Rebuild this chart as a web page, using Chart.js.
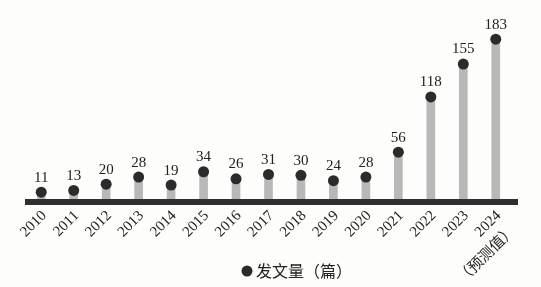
<!DOCTYPE html>
<html>
<head>
<meta charset="utf-8">
<script src="https://cdn.jsdelivr.net/npm/chart.js@4"></script>
<style>
  html, body { margin: 0; padding: 0; background: #fdfdfb; }
  #wrap { width: 541px; height: 287px; }
</style>
</head>
<body>
<div id="wrap"><canvas id="grafico"></canvas></div>
<script>
const anos = ['2010', '2011', '2012', '2013', '2014', '2015', '2016', '2017', '2018', '2019', '2020', '2021', '2022', '2023', '2024'];
const rotulos = anos.slice(0, -1).concat([['2024', '（预测值）']]);
const publicacoes = [11, 13, 20, 28, 19, 34, 26, 31, 30, 24, 28, 56, 118, 155, 183];
const nomeSerie = '发文量（篇）';

const serif = "'Liberation Serif', 'Noto Sans CJK SC', serif";
const corTexto = '#222';
const corPonto = '#2b2b2b';

// eixo grosso + valores acima dos pontos + legenda
const extras = {
  id: 'extras',
  afterDatasetsDraw(chart) {
    const ctx = chart.ctx;
    const y0 = chart.scales.y.getPixelForValue(0);
    ctx.save();
    ctx.fillStyle = '#2f2f2f';
    ctx.fillRect(chart.chartArea.left, y0 - 3, chart.chartArea.right - chart.chartArea.left + 6, 6);

    const pontos = chart.getDatasetMeta(1).data;
    ctx.fillStyle = corTexto;
    ctx.font = '15px ' + serif;
    ctx.textAlign = 'center';
    ctx.textBaseline = 'bottom';
    pontos.forEach((p, i) => {
      ctx.fillText(String(publicacoes[i]), p.x, p.y - 7);
    });

    // legenda
    const ly = 271;
    ctx.fillStyle = corPonto;
    ctx.beginPath();
    ctx.arc(247, ly, 5.5, 0, Math.PI * 2);
    ctx.fill();
    ctx.fillStyle = corTexto;
    ctx.font = "16px 'Noto Sans CJK SC', serif";
    ctx.textAlign = 'left';
    ctx.textBaseline = 'middle';
    ctx.fillText(chart.data.datasets[1].label, 256, ly);
    ctx.restore();
  }
};

new Chart(document.getElementById('grafico'), {
  type: 'bar',
  data: {
    labels: rotulos,
    datasets: [
      {
        type: 'bar',
        label: 'barras',
        data: publicacoes,
        backgroundColor: '#b8b8b8',
        barThickness: 8,
        order: 2
      },
      {
        type: 'line',
        label: nomeSerie,
        data: publicacoes,
        showLine: false,
        pointRadius: 5.5,
        pointHoverRadius: 5.5,
        pointBorderWidth: 0,
        pointBackgroundColor: corPonto,
        order: 1
      }
    ]
  },
  options: {
    responsive: true,
    maintainAspectRatio: false,
    animation: false,
    layout: { padding: { left: 25, right: 29, top: 24, bottom: 0 } },
    plugins: {
      legend: { display: false },
      tooltip: { enabled: false }
    },
    scales: {
      x: {
        grid: { display: false },
        border: { display: false },
        ticks: {
          color: corTexto,
          font: { family: serif, size: 15, lineHeight: 1.4 },
          minRotation: 45,
          maxRotation: 45,
          autoSkip: false,
          padding: -4,
          labelOffset: 3
        },
        afterFit(scale) { scale.height = 85; }
      },
      y: {
        display: false,
        min: 0,
        max: 200
      }
    }
  },
  plugins: [extras]
});
</script>
</body>
</html>
